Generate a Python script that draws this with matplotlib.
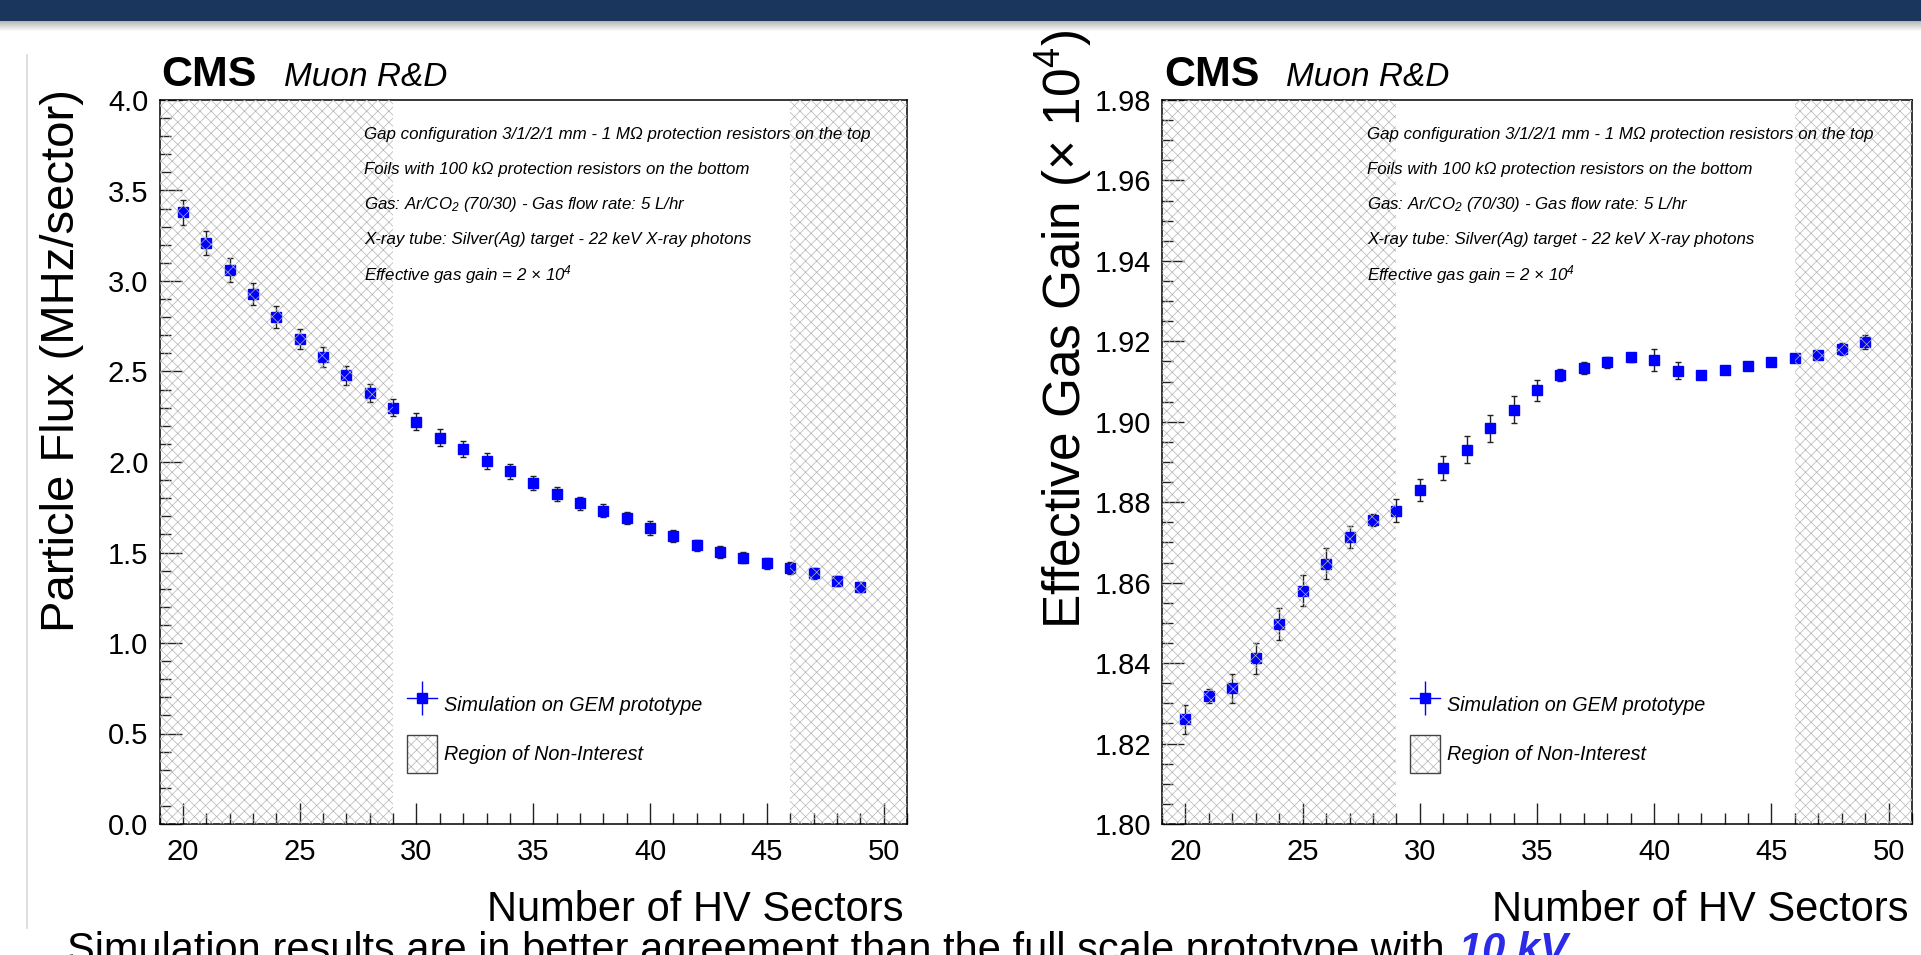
import matplotlib
matplotlib.use('Agg')
import matplotlib.pyplot as plt
from matplotlib.patches import Rectangle, Patch
from matplotlib.lines import Line2D
from matplotlib.legend_handler import HandlerTuple
from matplotlib.ticker import MultipleLocator, FormatStrFormatter

# ---------------- data ----------------
sectors = list(range(20, 50))
flux = [3.38, 3.21, 3.06, 2.93, 2.80, 2.68, 2.58, 2.48, 2.38, 2.30,
        2.223, 2.134, 2.071, 2.005, 1.948, 1.885, 1.822, 1.771, 1.730, 1.688,
        1.636, 1.592, 1.540, 1.503, 1.472, 1.441, 1.413, 1.384, 1.343, 1.310]
flux_err = [0.068, 0.068, 0.067, 0.061, 0.061, 0.055, 0.055, 0.052, 0.050, 0.048,
            0.048, 0.046, 0.046, 0.045, 0.041, 0.039, 0.039, 0.037, 0.036, 0.033,
            0.037, 0.032, 0.031, 0.031, 0.029, 0.031, 0.032, 0.029, 0.029, 0.029]
gain = [1.8260, 1.8318, 1.8337, 1.8412, 1.8497, 1.8580, 1.8647, 1.8714, 1.8756, 1.8779,
        1.8830, 1.8886, 1.8931, 1.8984, 1.9030, 1.9078, 1.9117, 1.9134, 1.9148, 1.9160,
        1.9154, 1.9127, 1.9116, 1.9128, 1.9139, 1.9148, 1.9158, 1.9167, 1.9181, 1.9198]
gain_err = [0.0035, 0.0018, 0.0036, 0.0038, 0.0040, 0.0039, 0.0038, 0.0028, 0.0015, 0.0029,
            0.0028, 0.0030, 0.0033, 0.0034, 0.0033, 0.0027, 0.0015, 0.0015, 0.0014, 0.0011,
            0.0027, 0.0021, 0.0010, 0.0010, 0.0010, 0.0010, 0.0010, 0.0010, 0.0014, 0.0017]
non_interest = [(19, 29), (46, 51)]
x_range = (19, 51)
flux_range = (0.0, 4.0)
gain_range = (1.80, 1.98)

info_lines = [
    "Gap configuration 3/1/2/1 mm - 1 M\u03a9 protection resistors on the top",
    "Foils with 100 k\u03a9 protection resistors on the bottom",
    "Gas: Ar/CO$\\mathregular{_2}$ (70/30) - Gas flow rate: 5 L/hr",
    "X-ray tube: Silver(Ag) target - 22 keV X-ray photons",
    "Effective gas gain = 2 \u00d7 10$\\mathregular{^4}$",
]
legend_labels = ["Simulation on GEM prototype", "Region of Non-Interest"]
xlabel = "Number of HV Sectors"
ylabel_flux = "Particle Flux (MHz/sector)"
ylabel_gain = "Effective Gas Gain (\u00d7 10$\\mathregular{^4}$)"
bottom_text = "Simulation results are in better agreement than the full scale prototype with"
bottom_blue = "10 kV"

# ---------------- style ----------------
plt.rcParams['font.family'] = ['Liberation Sans', 'DejaVu Sans']
plt.rcParams['hatch.linewidth'] = 0.5
plt.rcParams['axes.linewidth'] = 1.1

W, H = 1921, 955
fig = plt.figure(figsize=(W / 100, H / 100), dpi=100)
fig.patch.set_facecolor('white')

# top banner + shadow
fig.add_artist(Rectangle((0, 1 - 21 / H), 1, 21 / H, transform=fig.transFigure,
                         facecolor='#1b365d', edgecolor='none', zorder=10))
for i in range(10):
    fig.add_artist(Rectangle((0, 1 - (22 + i) / H), 1, 1 / H, transform=fig.transFigure,
                             facecolor='black', alpha=0.28 * (1 - i / 10),
                             edgecolor='none', zorder=10))
# thin slide divider line
fig.add_artist(Line2D([27 / W, 27 / W], [1 - 55 / H, 1 - 928 / H],
                      transform=fig.transFigure, color='#d8d8d8', lw=1.2))

hatch_col = '#b4b4b4'
hatch_pat = 'xxx'


def make_panel(left_px, width_px, yvals, yerrs, yrange, ymajor, yminor, yfmt, ylabel,
               ylabel_size, ylabel_cy):
    ax = fig.add_axes([left_px / W, (H - 824) / H, width_px / W, 724 / H])
    ax.errorbar(sectors, yvals, yerr=yerrs, fmt='s', color='#0000ff', mec='#0000ff',
                ms=7, ecolor='#222222', elinewidth=1.0, capsize=2.2, capthick=1.0,
                zorder=3)
    for a, b in non_interest:
        ax.axvspan(a, b, facecolor='none', edgecolor=hatch_col, hatch=hatch_pat,
                   lw=0, zorder=4)
    ax.set_xlim(*x_range)
    ax.set_ylim(*yrange)
    ax.xaxis.set_major_locator(MultipleLocator(5))
    ax.xaxis.set_minor_locator(MultipleLocator(1))
    ax.yaxis.set_major_locator(MultipleLocator(ymajor))
    ax.yaxis.set_minor_locator(MultipleLocator(yminor))
    ax.yaxis.set_major_formatter(FormatStrFormatter(yfmt))
    ax.tick_params(which='both', direction='in', top=False, right=False,
                   width=1.0, color='#222222')
    ax.tick_params(axis='x', which='major', length=15, pad=10, labelsize=21)
    ax.tick_params(axis='x', which='minor', length=8)
    ax.tick_params(axis='y', which='major', length=16, pad=8, labelsize=21)
    ax.tick_params(axis='y', which='minor', length=8)

    ax.set_xlabel(xlabel, fontsize=30, ha='right', va='baseline')
    ax.xaxis.set_label_coords(0.995, -(921 - 824) / 724)
    ax.set_ylabel(ylabel, fontsize=ylabel_size, ha='center', va='center')
    ax.yaxis.set_label_coords(-0.130, ylabel_cy)

    for i, line in enumerate(info_lines):
        ax.text(0.2736, 0.952 - i * 0.0483, line, transform=ax.transAxes,
                fontsize=12.2, style='italic', va='center', ha='left', zorder=6)

    sim_handle = (Line2D([], [], color='#0000ff', lw=1.0),
                  Line2D([], [], color='#0000ff', marker='|', ms=25, mew=1.0, ls='none'),
                  Line2D([], [], color='#0000ff', marker='s', ms=7, ls='none'))
    roi_handle = (Patch(facecolor='white', edgecolor=hatch_col, hatch=hatch_pat, lw=0),
                  Patch(facecolor='none', edgecolor='#444444', lw=1.0))
    leg = ax.legend([sim_handle, roi_handle], legend_labels,
                    handler_map={tuple: HandlerTuple(ndivide=1)},
                    loc='upper left', bbox_to_anchor=(0.331, 0.191),
                    frameon=False, borderpad=0, borderaxespad=0,
                    handlelength=1.5, handleheight=2.58, handletextpad=0.38,
                    labelspacing=0.56, prop={'size': 14.2, 'style': 'italic'})
    leg.set_zorder(7)

    # CMS label
    fig.text((left_px + 2) / W, 1 - 86 / H, "CMS", fontsize=31, fontweight='bold',
             ha='left', va='baseline')
    fig.text((left_px + 124) / W, 1 - 86 / H, "Muon R&D", fontsize=24, style='italic',
             ha='left', va='baseline')
    return ax


ax1 = make_panel(159.5, 747.5, flux, flux_err, flux_range, 0.5, 0.1, '%.1f',
                 ylabel_flux, 34, 0.6395)
ax2 = make_panel(1162, 750, gain, gain_err, gain_range, 0.02, 0.005, '%.2f',
                 ylabel_gain, 37, 0.683)

# bottom (cut-off) slide text
t1 = fig.text(67 / W, 1 - 962 / H, bottom_text, fontsize=30, ha='left', va='baseline')
fig.canvas.draw()
bb = t1.get_window_extent()
fig.text((bb.x1 + 14) / W, 1 - 962 / H, bottom_blue, fontsize=30, fontweight='bold',
         style='italic', color='#2a2ae8', ha='left', va='baseline')

fig.savefig('out.png', dpi=100)
